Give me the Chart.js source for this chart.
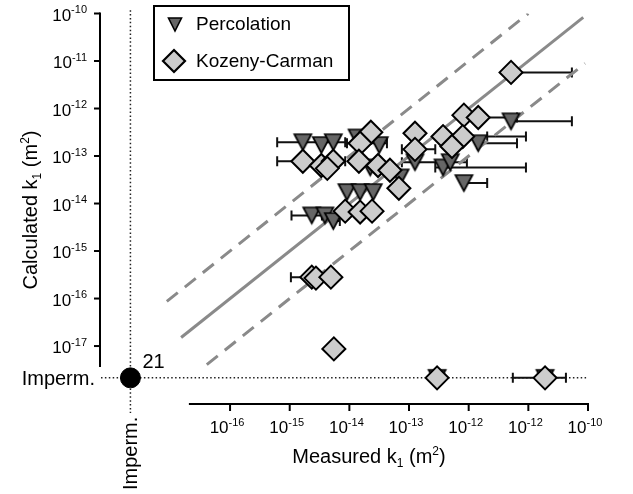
<!DOCTYPE html>
<html>
<head>
<meta charset="utf-8">
<script src="https://cdn.jsdelivr.net/npm/chart.js@4.4.1/dist/chart.umd.min.js"></script>
<style>
  html, body { margin: 0; padding: 0; background: #fff; }
  #wrap { width: 633px; height: 494px; position: relative; }
</style>
</head>
<body>
<div id="wrap"><canvas id="chart"></canvas></div>
<script>
// All values are log10(k1 / m^2). "Imperm." samples sit on their own row/column.
const IMPERM = -17.67;

// ── Percolation ─────────────────────────────────────────────────────────
const percMeasured = [-14.78, -14.47, -14.27, -13.87, -13.50, -13.65, -13.15, -12.90, -12.43, -12.31,
                      -12.08, -11.84, -11.29, -14.04, -13.82, -13.60, -14.63, -14.41, -14.27, -12.53, -10.72];
const percCalc     = [-12.71, -12.77, -12.71, -12.61, -12.77, -13.24, -13.45, -13.13, -13.24, -13.13,
                      -13.57, -12.73, -12.27, -13.76, -13.76, -13.76, -14.25, -14.25, -14.37, IMPERM, IMPERM];
const percErrLo    = [-15.21, null, null, null, null, null, null, -13.12, -12.56, null,
                      -12.08, -11.84, -11.29, null, null, null, -14.97, null, -14.27, null, null];
const percErrHi    = [-14.07, null, null, null, null, null, null, -12.03, -11.04, null,
                      -11.69, -11.19, -10.27, null, null, null, -14.46, null, -14.16, null, null];

// ── Kozeny-Carman ───────────────────────────────────────────────────────
const kcMeasured = [-11.29, -12.08, -11.84, -12.43, -12.10, -12.28, -12.90, -12.90, -13.64, -13.82,
                    -14.78, -14.47, -14.27, -14.37, -13.84, -13.52, -13.32, -13.17, -14.07, -13.82,
                    -13.62, -14.63, -14.56, -14.31, -14.26, -12.53, -10.72];
const kcCalc     = [-11.24, -12.14, -12.19, -12.59, -12.59, -12.80, -12.52, -12.86, -12.50, -12.73,
                    -13.11, -13.20, -13.11, -13.26, -13.11, -13.20, -13.30, -13.68, -14.16, -14.18,
                    -14.16, -15.55, -15.57, -15.55, -17.06, IMPERM, IMPERM];
const kcErrLo    = [-11.29, null, -11.84, null, -11.69, null, null, -13.12, null, -14.04,
                    -15.21, null, null, null, null, null, null, null, null, null,
                    null, -14.98, null, null, null, null, -11.26];
const kcErrHi    = [-10.27, null, -11.19, null, -11.04, null, null, -12.56, null, -13.37,
                    -14.07, null, null, null, null, null, null, null, null, null,
                    null, -14.63, null, null, null, null, -10.37];

// impermeable in both, count
const impermCount = '21';

// reference lines (1:1 and one decade either side)
const oneX = [-16.82, -10.08], oneY = [-16.82, -10.08];
const upX  = [-17.06, -11.00], upY  = [-16.06, -10.00];
const lowX = [-16.39, -10.05], lowY = [-17.39, -11.05];

// ticks
const xTicks = [-16, -15, -14, -13, -12, -11, -10];
const xTickLabels = ['-16', '-15', '-14', '-13', '-12', '-12', '-10'];
const yTicks = [-10, -11, -12, -13, -14, -15, -16, -17];
const yTickLabels = ['-10', '-11', '-12', '-13', '-14', '-15', '-16', '-17'];
const xAxisFrom = -16.69, yAxisFrom = -17.44;

const FONT = "'Liberation Sans', Arial, sans-serif";
const GREY_LINE = '#8a8a8a';
const PERC_FILL = '#666666';
const KC_FILL = '#cccccc';

function triangleImage(w, h, fill, lw) {
  const pad = 3;
  const c = document.createElement('canvas');
  c.width = w + pad * 2; c.height = h + pad * 2;
  const g = c.getContext('2d');
  g.beginPath();
  g.moveTo(pad, pad); g.lineTo(pad + w, pad); g.lineTo(pad + w / 2, pad + h); g.closePath();
  g.fillStyle = fill; g.fill();
  g.lineWidth = lw; g.strokeStyle = '#000'; g.stroke();
  return c;
}
const triImg = triangleImage(17, 16, PERC_FILL, 1.7);

const pts = (xs, ys) => xs.map((v, i) => ({ x: v, y: ys[i] }));

// ── helpers for text with super/subscripts ─────────────────────────────
function drawRich(ctx, parts, x, y, align, size, smallSize) {
  const big = size + 'px ' + FONT, small = (smallSize || Math.round(size * 0.6)) + 'px ' + FONT;
  let total = 0;
  parts.forEach(p => { ctx.font = p.sub || p.sup ? small : big; p.w = ctx.measureText(p.t).width; total += p.w; });
  let cx = align === 'right' ? x - total : align === 'center' ? x - total / 2 : x;
  ctx.textAlign = 'left'; ctx.textBaseline = 'alphabetic';
  parts.forEach(p => {
    ctx.font = p.sub || p.sup ? small : big;
    const dy = p.sup ? -size * 0.42 : p.sub ? size * 0.22 : 0;
    ctx.fillText(p.t, cx, y + dy);
    cx += p.w;
  });
}
function drawPow(ctx, exp, x, y, align) {
  drawRich(ctx, [{ t: '10' }, { t: exp, sup: true }], x, y, align, 17, 11);
}

// ── error bars + impermeable guides (under markers) ────────────────────
const underlay = {
  id: 'underlay',
  beforeDatasetsDraw(chart) {
    const { ctx, scales: { x, y } } = chart;
    ctx.save();
    // dotted Imperm. guides
    ctx.strokeStyle = '#222'; ctx.lineWidth = 1.5; ctx.setLineDash([1.5, 2.4]);
    const iy = y.getPixelForValue(IMPERM), ix = x.getPixelForValue(IMPERM);
    ctx.beginPath(); ctx.moveTo(chart.chartArea.left + 1, iy); ctx.lineTo(x.getPixelForValue(-10), iy); ctx.stroke();
    ctx.beginPath(); ctx.moveTo(ix, y.getPixelForValue(-9.93)); ctx.lineTo(ix, chart.chartArea.bottom + 9); ctx.stroke();
    ctx.setLineDash([]);
    // horizontal error bars
    ctx.strokeStyle = '#111'; ctx.lineWidth = 2;
    const bars = (mx, cy, lo, hi) => mx.forEach((_, i) => {
      if (lo[i] == null || hi[i] == null) return;
      const py = y.getPixelForValue(cy[i]);
      const a = x.getPixelForValue(lo[i]), b = x.getPixelForValue(hi[i]);
      ctx.beginPath();
      ctx.moveTo(a, py); ctx.lineTo(b, py);
      ctx.moveTo(a, py - 5); ctx.lineTo(a, py + 5);
      ctx.moveTo(b, py - 5); ctx.lineTo(b, py + 5);
      ctx.stroke();
    });
    bars(percMeasured, percCalc, percErrLo, percErrHi);
    bars(kcMeasured, kcCalc, kcErrLo, kcErrHi);
    ctx.restore();
  }
};

// ── axes, labels, legend ───────────────────────────────────────────────
const overlay = {
  id: 'overlay',
  afterDraw(chart) {
    const { ctx, chartArea: area, scales: { x, y } } = chart;
    ctx.save();
    ctx.fillStyle = '#000'; ctx.strokeStyle = '#000'; ctx.lineWidth = 2;

    // y axis
    const ax = area.left;
    ctx.beginPath(); ctx.moveTo(ax, y.getPixelForValue(-10) - 1); ctx.lineTo(ax, y.getPixelForValue(yAxisFrom)); ctx.stroke();
    yTicks.forEach((t, i) => {
      const py = y.getPixelForValue(t);
      ctx.beginPath(); ctx.moveTo(ax - 6, py); ctx.lineTo(ax, py); ctx.stroke();
      drawPow(ctx, yTickLabels[i], ax - 13, py + 7, 'right');
    });
    // x axis
    const ay = area.bottom;
    ctx.beginPath(); ctx.moveTo(x.getPixelForValue(xAxisFrom), ay); ctx.lineTo(x.getPixelForValue(-10) + 1, ay); ctx.stroke();
    xTicks.forEach((t, i) => {
      const px = x.getPixelForValue(t);
      ctx.beginPath(); ctx.moveTo(px, ay); ctx.lineTo(px, ay + 7); ctx.stroke();
      drawPow(ctx, xTickLabels[i], px - 3, ay + 29, 'center');
    });

    // axis titles
    drawRich(ctx, [{ t: 'Measured k' }, { t: '1', sub: true }, { t: ' (m' }, { t: '2', sup: true }, { t: ')' }], 369, 463, 'center', 20);
    ctx.save();
    ctx.translate(37, 210); ctx.rotate(-Math.PI / 2);
    drawRich(ctx, [{ t: 'Calculated k' }, { t: '1', sub: true }, { t: ' (m' }, { t: '2', sup: true }, { t: ')' }], 0, 0, 'center', 20);
    ctx.restore();

    // Imperm. labels
    const iy = y.getPixelForValue(IMPERM), ix = x.getPixelForValue(IMPERM);
    ctx.font = '20px ' + FONT; ctx.textBaseline = 'alphabetic';
    ctx.textAlign = 'right'; ctx.fillText('Imperm.', ax - 5, iy + 7);
    ctx.save();
    ctx.translate(ix + 7, area.bottom + 86); ctx.rotate(-Math.PI / 2);
    ctx.textAlign = 'left'; ctx.fillText('Imperm.', 0, 0);
    ctx.restore();
    ctx.textAlign = 'left'; ctx.fillText(impermCount, ix + 12, iy - 10);

    // legend
    const L = { x: 154, y: 6, w: 195, h: 74 };
    ctx.fillStyle = '#fff'; ctx.fillRect(L.x, L.y, L.w, L.h);
    ctx.lineWidth = 2; ctx.strokeStyle = '#000'; ctx.strokeRect(L.x, L.y, L.w, L.h);
    // triangle
    ctx.beginPath();
    ctx.moveTo(168.5, 18); ctx.lineTo(181.5, 18); ctx.lineTo(175, 31); ctx.closePath();
    ctx.fillStyle = PERC_FILL; ctx.fill(); ctx.lineWidth = 1.6; ctx.stroke();
    // diamond
    ctx.beginPath();
    ctx.moveTo(163, 61); ctx.lineTo(174, 50); ctx.lineTo(185, 61); ctx.lineTo(174, 72); ctx.closePath();
    ctx.fillStyle = KC_FILL; ctx.fill(); ctx.lineWidth = 2.2; ctx.stroke();
    ctx.fillStyle = '#000'; ctx.font = '19px ' + FONT; ctx.textAlign = 'left'; ctx.textBaseline = 'middle';
    ctx.fillText(chart.data.datasets[3].label, 196, 25);
    ctx.fillText(chart.data.datasets[4].label, 196, 62);
    ctx.restore();
  }
};

const lineStyle = { type: 'scatter', showLine: true, pointRadius: 0, borderColor: GREY_LINE, borderWidth: 3, fill: false };

new Chart(document.getElementById('chart'), {
  type: 'scatter',
  data: {
    datasets: [
      { ...lineStyle, label: '1:1', data: pts(oneX, oneY), order: 5 },
      { ...lineStyle, label: '+1', data: pts(upX, upY), borderDash: [14, 9], order: 5 },
      { ...lineStyle, label: '-1', data: pts(lowX, lowY), borderDash: [14, 9], order: 5 },
      { label: 'Percolation', data: pts(percMeasured, percCalc), pointStyle: triImg, order: 3 },
      { label: 'Kozeny-Carman', data: pts(kcMeasured, kcCalc), pointStyle: 'rectRot', pointRadius: 11.5,
        backgroundColor: KC_FILL, borderColor: '#000', borderWidth: 2, order: 2 },
      { label: 'Imperm.', data: [{ x: IMPERM, y: IMPERM }], pointRadius: 10, backgroundColor: '#000',
        borderColor: '#000', borderWidth: 1, order: 1 },
    ],
  },
  options: {
    responsive: true,
    maintainAspectRatio: false,
    animation: false,
    events: [],
    layout: { padding: { left: 100, right: 45, top: 13, bottom: 90 } },
    plugins: { legend: { display: false }, tooltip: { enabled: false } },
    scales: {
      x: { type: 'linear', min: -18.18, max: -10, display: false },
      y: { type: 'linear', min: -18.22, max: -10, display: false },
    },
  },
  plugins: [underlay, overlay],
});
</script>
</body>
</html>
